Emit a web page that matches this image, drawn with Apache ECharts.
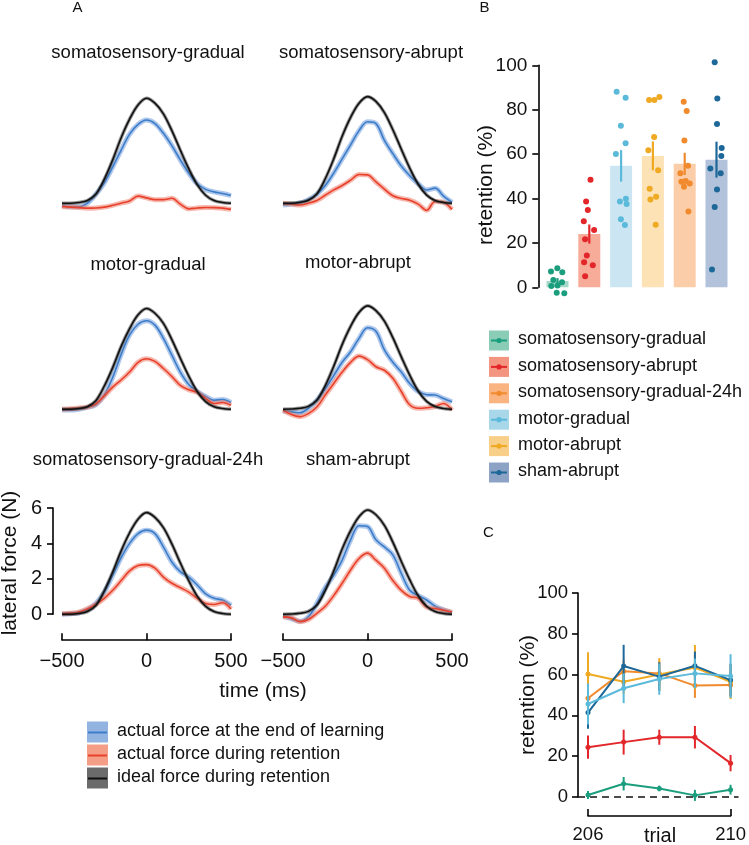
<!DOCTYPE html>
<html><head><meta charset="utf-8">
<script src="https://cdn.jsdelivr.net/npm/echarts@6/dist/echarts.min.js"></script>
<style>html,body{margin:0;padding:0;background:#fff}#c{width:749px;height:845px}</style>
</head><body><div id="c"></div>
<script>
const FONT = '"Liberation Sans", Arial, Helvetica, sans-serif';

// ---------- Panel A data ----------
const timeMs = [-500,-450,-400,-350,-300,-250,-200,-150,-100,-50,0,50,100,150,200,250,300,350,400,450,500];
const forceTicksMax = 6;
const panelTitles = ['somatosensory-gradual','somatosensory-abrupt','motor-gradual','motor-abrupt','somatosensory-gradual-24h','sham-abrupt'];

const sgLearn  = [-0.13,-0.2,-0.2,0.0,0.5,1.15,2.05,3.0,3.9,4.45,4.7,4.5,3.95,3.25,2.45,1.7,1.1,0.78,0.64,0.55,0.43];
const sgRetain = [-0.19,-0.22,-0.25,-0.28,-0.27,-0.22,-0.12,0.0,0.12,0.4,0.3,0.2,0.2,0.28,-0.05,-0.32,-0.27,-0.24,-0.25,-0.28,-0.35];
const sgIdeal  = [0,0,0.04,0.15,0.5,1.35,2.45,3.7,4.75,5.55,5.93,5.65,5.05,4.1,3.0,1.95,1.05,0.45,0.15,0.04,0];

const saLearn  = [-0.1,-0.05,0.0,0.2,0.5,1.0,1.7,2.5,3.3,4.1,4.6,4.5,3.55,2.8,2.1,1.55,1.1,0.75,0.85,0.4,0.05];
const saRetain = [0.0,-0.05,-0.1,0.0,0.15,0.45,0.75,1.0,1.3,1.62,1.6,1.2,0.8,0.42,0.27,0.17,-0.05,-0.4,0.1,0.05,-0.35];
const saIdeal  = [0,0,0.05,0.17,0.52,1.38,2.5,3.78,4.85,5.65,6.02,5.75,5.12,4.15,3.05,1.98,1.07,0.46,0.15,0.04,0];

const mgLearn  = [-0.05,-0.05,0.0,0.1,0.25,0.8,1.8,3.1,4.2,4.8,5.0,4.75,4.0,3.05,2.1,1.4,1.0,0.72,0.5,0.55,0.38];
const mgRetain = [0.0,0.03,0.07,0.12,0.3,0.75,1.25,1.65,2.1,2.65,2.85,2.7,2.3,1.85,1.35,1.1,0.95,0.6,0.32,0.38,0.22];
const mgIdeal  = [0,0,0.04,0.14,0.48,1.3,2.35,3.55,4.55,5.33,5.69,5.42,4.85,3.93,2.88,1.87,1.0,0.43,0.14,0.04,0];

const maLearn  = [-0.1,-0.15,-0.2,0.05,0.5,1.15,1.9,2.65,3.25,4.0,4.6,4.4,3.35,2.65,2.1,1.45,1.0,0.82,0.8,0.6,0.42];
const maRetain = [-0.05,-0.3,-0.42,-0.25,0.12,0.8,1.45,2.1,2.65,3.0,2.8,2.4,2.2,1.75,1.0,0.25,0.05,0.08,0.15,0.32,-0.05];
const maIdeal  = [0,0.01,0.05,0.16,0.5,1.33,2.42,3.65,4.68,5.47,5.84,5.57,4.98,4.04,2.96,1.92,1.03,0.44,0.15,0.04,0];

const s24Learn  = [0.0,0.03,0.08,0.25,0.6,1.25,2.2,3.2,4.0,4.55,4.75,4.55,3.8,2.95,2.4,2.1,1.65,1.15,0.9,0.8,0.5];
const s24Retain = [0.02,0.06,0.12,0.3,0.55,0.9,1.35,1.9,2.45,2.75,2.8,2.6,2.1,1.75,1.5,1.25,0.9,0.6,0.55,0.65,0.3];
const s24Ideal  = [0,0,0.04,0.15,0.49,1.31,2.38,3.58,4.6,5.37,5.74,5.47,4.89,3.97,2.9,1.89,1.02,0.44,0.15,0.04,0];

const shLearn  = [-0.1,-0.25,-0.4,-0.15,0.6,1.5,2.2,3.05,4.2,5.0,4.95,4.2,3.8,3.35,2.3,1.35,1.05,0.8,0.45,0.25,0.08];
const shRetain = [-0.15,-0.2,-0.42,-0.3,0.05,0.45,1.05,1.75,2.5,3.15,3.45,3.05,2.6,1.9,1.35,1.0,0.9,0.4,0.32,0.22,0.12];
const shIdeal  = [0,0.01,0.05,0.16,0.5,1.34,2.44,3.68,4.72,5.51,5.89,5.62,5.02,4.07,2.98,1.94,1.04,0.45,0.15,0.04,0];

const panelLearn  = [sgLearn, saLearn, mgLearn, maLearn, s24Learn, shLearn];
const panelRetain = [sgRetain, saRetain, mgRetain, maRetain, s24Retain, shRetain];
const panelIdeal  = [sgIdeal, saIdeal, mgIdeal, maIdeal, s24Ideal, shIdeal];
const curveLegend = ['actual force at the end of learning','actual force during retention','ideal force during retention'];

// ---------- Panel B data ----------
const barGroups = ['somatosensory-gradual','somatosensory-abrupt','motor-gradual','motor-abrupt','somatosensory-gradual-24h','sham-abrupt'];
const barMeans = [2.85, 24.0, 54.7, 59.2, 55.6, 57.5];
const barSem   = [1.3, 4.3, 7.1, 6.5, 5.0, 8.1];
const dotsSG   = [7.1, 8.6, 6.8, 3.3, 2.3, 0.8, 0.6, -2.4, -2.7];
const dotsSA   = [48.5, 38.7, 34.8, 29.7, 25.8, 21.6, 14.3, 11.3, 9.9, 5.0];
const dotsMG   = [88.1, 85.4, 72.8, 64.9, 60.1, 39.9, 38.7, 37.5, 30.6, 28.1];
const dotsMA   = [84.4, 84.4, 85.7, 67.7, 61.7, 52.7, 44.4, 40.8, 39.6, 28.2];
const dotsS24  = [83.6, 79.4, 66.1, 54.7, 51.4, 47.9, 46.8, 47.6, 45.3, 34.1];
const dotsSH   = [101.4, 85.1, 73.6, 62.8, 59.2, 53.5, 51.4, 44.1, 36.2, 8.0];
const barDots = [dotsSG, dotsSA, dotsMG, dotsMA, dotsS24, dotsSH];
// horizontal jitter of dots (px), layout only
const jitterSG  = [-6.5,-0.2,4.8,-4.2,4.5,0,-6.2,-0.8,6.8];
const jitterSA  = [1.2,-3.2,-1.5,-5.5,4.8,-4.2,-2.5,-5.2,3.5,-4.2];
const jitterMG  = [-4.5,4.5,-0.2,4.5,-5.2,4.8,-1.2,5.5,-0.2,3.8];
const jitterMA  = [-3.8,1.5,6.5,1.2,-4.5,5.2,-3.2,3.2,-2.5,2.8];
const jitterS24 = [-1,2,-0.3,3.3,-4.3,1,5,-3.3,-0.7,3.7];
const jitterSH  = [-1.8,0.8,0.5,5.2,4.8,-6.2,4.2,0.5,-1.8,-4.5];
const barJitter = [jitterSG, jitterSA, jitterMG, jitterMA, jitterS24, jitterSH];
const retentionTicksMax = 100;

// ---------- Panel C data ----------
const trials = [206, 207, 208, 209, 210];
const legendGroups = ['somatosensory-gradual','somatosensory-abrupt','somatosensory-gradual-24h','motor-gradual','motor-abrupt','sham-abrupt'];
const trialSG   = [1.0, 6.5, 4.2, 0.8, 3.6];
const trialSGse = [2.0, 3.3, 1.4, 2.7, 2.4];
const trialSA   = [24.4, 26.9, 29.3, 29.3, 16.6];
const trialSAse = [5.7, 6.1, 3.7, 5.5, 4.0];
const trialS24  = [48.4, 61.7, 60.6, 54.6, 54.9];
const trialS24se= [6.0, 5.5, 6.0, 6.0, 5.5];
const trialMA   = [60.3, 56.5, 60.1, 63.5, 56.5];
const trialMAse = [10.7, 6.0, 8.0, 11.0, 8.5];
const trialSH   = [41.4, 64.2, 59.0, 64.3, 57.3];
const trialSHse = [8.0, 10.4, 7.0, 7.0, 8.0];
const trialMG   = [45.6, 53.3, 57.8, 60.6, 59.3];
const trialMGse = [10.0, 7.3, 7.7, 7.3, 10.7];
// drawing order (bottom to top)
const trialOrder = [
  ['somatosensory-gradual', trialSG, trialSGse],
  ['somatosensory-abrupt', trialSA, trialSAse],
  ['somatosensory-gradual-24h', trialS24, trialS24se],
  ['motor-abrupt', trialMA, trialMAse],
  ['sham-abrupt', trialSH, trialSHse],
  ['motor-gradual', trialMG, trialMGse]
];

// ---------- styles ----------
const dark = {
  'somatosensory-gradual':'#1B9E7E','somatosensory-abrupt':'#E3262A','somatosensory-gradual-24h':'#F08A2C',
  'motor-gradual':'#5BB9DA','motor-abrupt':'#EFA922','sham-abrupt':'#1D6898'};
const barFill = {
  'somatosensory-gradual':'#A6D9C9','somatosensory-abrupt':'#F7AB99','somatosensory-gradual-24h':'#FCCDA9',
  'motor-gradual':'#CBE6F2','motor-abrupt':'#FCE2B5','sham-abrupt':'#B2C2DB'};
const boxFill = {
  'somatosensory-gradual':'#8ACCB6','somatosensory-abrupt':'#F39580','somatosensory-gradual-24h':'#F9B482',
  'motor-gradual':'#A9D7EA','motor-abrupt':'#F8CF89','sham-abrupt':'#8DA3C6'};
const curveLine = ['#3C7DCA','#E8412B','#111111'];
const curveBand = ['rgba(95,145,215,0.5)','rgba(240,115,95,0.5)','rgba(70,70,70,0.55)'];
const curveBox  = ['#93B3E0','#F59E87','#6B6B6B'];

const chart = echarts.init(document.getElementById('c'), null, {renderer:'canvas'});

// grids for the six force panels
const colLeft = [62, 283];
const rowTop = [97, 303, 508];
const grids = [], xAxes = [], yAxes = [], series = [];
const lineSt = {color:'#000', width:1.6};
const axisLineStyle = {show:true, onZero:false, lineStyle:lineSt};
for (let i = 0; i < 6; i++) {
  const r = Math.floor(i/2), c = i%2;
  grids.push({left: colLeft[c], top: rowTop[r], width: 169, height: 106.2});
  const showX = (r === 2);
  const showY = (r === 2 && c === 0);
  xAxes.push({gridIndex:i, type:'value', min:-500, max:500, interval:500, show: showX,
    position:'bottom', offset: 26,
    axisLine: axisLineStyle,
    axisTick:{show:true, inside:true, length:7, lineStyle:lineSt},
    axisLabel:{show:true, margin:11, fontSize:20, fontFamily:FONT, color:'#111',
      formatter: v => String(v).replace('-', '\u2212')},
    splitLine:{show:false}});
  yAxes.push({gridIndex:i, type:'value', min:0, max:forceTicksMax, interval:2, show: showY,
    position:'left', offset: 9,
    axisLine: axisLineStyle,
    axisTick:{show:true, length:6, lineStyle:lineSt},
    axisLabel:{margin:11, fontSize:20, fontFamily:FONT, color:'#111'},
    splitLine:{show:false}});
  const sets = [panelLearn[i], panelRetain[i], panelIdeal[i]];
  sets.forEach((arr, k) => {
    const pts = timeMs.map((t, j) => [t, arr[j]]);
    series.push({type:'line', xAxisIndex:i, yAxisIndex:i, data:pts, smooth:0.35, showSymbol:false,
      clip:false, silent:true, lineStyle:{color:curveBand[k], width: k===2?3.5:5}, z: 2+k*2});
    series.push({type:'line', xAxisIndex:i, yAxisIndex:i, data:pts, smooth:0.35, showSymbol:false,
      clip:false, silent:true, lineStyle:{color:curveLine[k], width:1.6}, z: 3+k*2});
  });
}

// Panel B grid (index 6)
grids.push({left: 541.6, top: 65.3, width: 190.8, height: 222});
xAxes.push({gridIndex:6, type:'category', data:barGroups, show:false});
yAxes.push({gridIndex:6, type:'value', min:0, max:retentionTicksMax, interval:20, offset:3.3,
  position:'left', axisLine: axisLineStyle,
  axisTick:{show:true, length:6, lineStyle:lineSt},
  axisLabel:{margin:11, fontSize:19, fontFamily:FONT, color:'#111'},
  splitLine:{show:false}});
series.push({type:'bar', xAxisIndex:6, yAxisIndex:6, barWidth:22,
  data: barMeans.map((v, i) => ({value:v, itemStyle:{color: barFill[barGroups[i]]}})), z:2, silent:true});
series.push({type:'custom', xAxisIndex:6, yAxisIndex:6, z:4, silent:true,
  data: barMeans.map((v, i) => [i, v, barSem[i]]),
  renderItem: (params, api) => {
    const i = api.value(0);
    const p1 = api.coord([i, api.value(1) - api.value(2)]);
    const p2 = api.coord([i, api.value(1) + api.value(2)]);
    return {type:'line', shape:{x1:p1[0], y1:p1[1], x2:p2[0], y2:p2[1]},
      style:{stroke: dark[barGroups[i]], lineWidth:2.2}};
  }});
const dotData = [];
barDots.forEach((arr, g) => arr.forEach((v, j) => dotData.push([g, v, barJitter[g][j]])));
series.push({type:'custom', xAxisIndex:6, yAxisIndex:6, z:5, silent:true, clip:false,
  data: dotData,
  renderItem: (params, api) => {
    const g = api.value(0);
    const p = api.coord([g, api.value(1)]);
    return {type:'circle', shape:{cx:p[0] + api.value(2), cy:p[1], r:3}, style:{fill: dark[barGroups[g]]}};
  }});

// Panel C grid (index 7)
grids.push({left: 588, top: 593, width: 144, height: 204});
xAxes.push({gridIndex:7, type:'value', min:206, max:210, interval:4, offset:19,
  position:'bottom', axisLine: axisLineStyle,
  axisTick:{show:true, inside:true, length:7, lineStyle:lineSt},
  axisLabel:{margin:9, fontSize:18.5, fontFamily:FONT, color:'#111'},
  splitLine:{show:false}});
yAxes.push({gridIndex:7, type:'value', min:0, max:retentionTicksMax, interval:20, offset:10,
  position:'left', axisLine: axisLineStyle,
  axisTick:{show:true, length:6, lineStyle:lineSt},
  axisLabel:{margin:10, fontSize:18.5, fontFamily:FONT, color:'#111'},
  splitLine:{show:false}});
trialOrder.forEach(([name, vals, se], k) => {
  const col = dark[name];
  series.push({type:'custom', xAxisIndex:7, yAxisIndex:7, z:10+k*2, silent:true, clip:false,
    data: trials.map((t, j) => [t, vals[j], se[j]]),
    renderItem: (params, api) => {
      const p1 = api.coord([api.value(0), api.value(1) - api.value(2)]);
      const p2 = api.coord([api.value(0), api.value(1) + api.value(2)]);
      return {type:'line', shape:{x1:p1[0], y1:p1[1], x2:p2[0], y2:p2[1]}, style:{stroke:col, lineWidth:2}};
    }});
  series.push({type:'line', xAxisIndex:7, yAxisIndex:7, z:11+k*2, silent:true, clip:false,
    data: trials.map((t, j) => [t, vals[j]]),
    symbol:'circle', symbolSize:5, showSymbol:true,
    itemStyle:{color:col}, lineStyle:{color:col, width:2}});
});

// ---------- text / legends ----------
const graphics = [];
function txt(text, x, y, size, opts) {
  graphics.push(Object.assign({type:'text', x, y, silent:true, z:100,
    style:{text, fontSize:size, fontFamily:FONT, fill:'#111', textAlign:'center', textVerticalAlign:'middle'}}, opts || {}));
}
txt('A', 77.5, 8, 15);
txt('B', 484.5, 8, 15);
txt('C', 488.5, 533, 15);
const titlePos = [[148,53],[371,53],[148,265],[358,263],[148,460],[358,460]];
panelTitles.forEach((t, i) => txt(t, titlePos[i][0], titlePos[i][1], 18.5));
txt('lateral force (N)', 10, 563, 21, {rotation: Math.PI/2});
txt('time (ms)', 263, 691, 21);
txt('retention (%)', 486, 185, 21, {rotation: Math.PI/2});
txt('retention (%)', 528, 695, 21, {rotation: Math.PI/2});
txt('trial', 660, 836, 20);

// Panel A legend
curveLegend.forEach((name, k) => {
  const cy = 732.5 + k*23;
  graphics.push({type:'rect', shape:{x:87, y:cy-11, width:21, height:21}, style:{fill:curveBox[k]}, silent:true, z:100});
  graphics.push({type:'line', shape:{x1:88, y1:cy, x2:107, y2:cy}, style:{stroke:curveLine[k], lineWidth:2}, silent:true, z:101});
  graphics.push({type:'text', x:117, y:cy-1.5, silent:true, z:100,
    style:{text:name, fontSize:18, fontFamily:FONT, fill:'#111', textAlign:'left', textVerticalAlign:'middle'}});
});
// Panel B legend
legendGroups.forEach((name, k) => {
  const cy = 340.5 + k*26.4;
  graphics.push({type:'rect', shape:{x:489, y:cy-10, width:20, height:20}, style:{fill:boxFill[name]}, silent:true, z:100});
  graphics.push({type:'line', shape:{x1:491, y1:cy, x2:507, y2:cy}, style:{stroke:dark[name], lineWidth:2}, silent:true, z:101});
  graphics.push({type:'circle', shape:{cx:499, cy:cy, r:2.6}, style:{fill:dark[name]}, silent:true, z:102});
  graphics.push({type:'text', x:518, y:cy-1, silent:true, z:100,
    style:{text:name, fontSize:18, fontFamily:FONT, fill:'#111', textAlign:'left', textVerticalAlign:'middle'}});
});

chart.setOption({
  animation:false,
  backgroundColor:'#fff',
  grid: grids, xAxis: xAxes, yAxis: yAxes, series: series,
  graphic: graphics
});

// dashed zero line in panel C, positioned through the chart's own scale
const z0 = chart.convertToPixel({gridIndex:7}, [206, 0]);
const z1 = chart.convertToPixel({gridIndex:7}, [210, 0]);
graphics.push({type:'line', silent:true, z:5,
  shape:{x1: z0[0]-10, y1: z0[1], x2: z1[0]+8, y2: z1[1]},
  style:{stroke:'#111', lineWidth:1.5, lineDash:[7,5]}});
chart.setOption({graphic: graphics});
</script>
</body></html>
